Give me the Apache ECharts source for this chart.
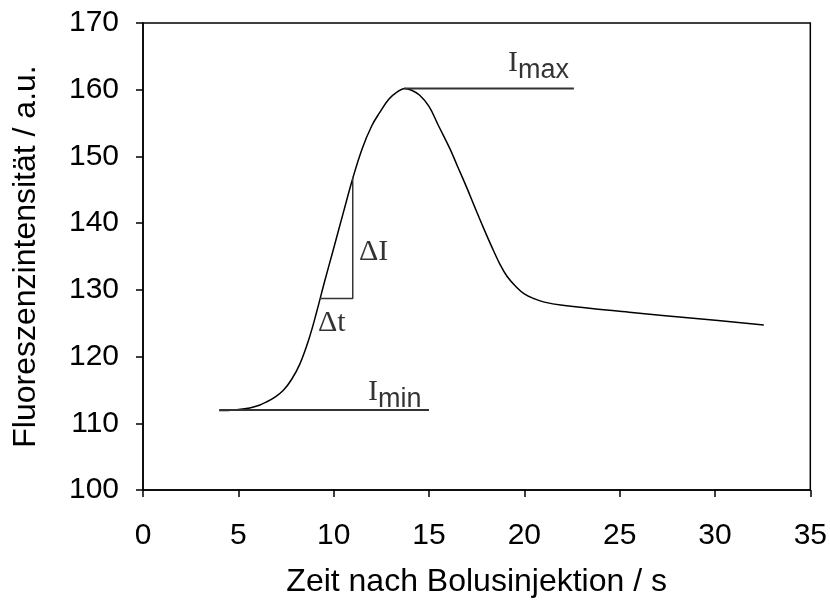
<!DOCTYPE html>
<html>
<head>
<meta charset="utf-8">
<script src="https://cdn.jsdelivr.net/npm/echarts@6/dist/echarts.min.js"></script>
<style>html,body{margin:0;padding:0;background:#fff}#c{width:830px;height:606px}</style>
</head>
<body>
<div id="c"></div>
<script>
// Curve (time in s, fluorescence intensity in a.u.)
const curveX = [4.0, 4.8, 5.6, 6.1, 6.48, 6.9, 7.35, 7.8, 8.23, 8.7, 9.1, 9.5, 9.97, 10.5, 11.0, 11.5, 12.0, 12.42, 12.9, 13.3, 13.73, 14.1, 14.5, 15.0, 15.5, 16.09, 16.5, 16.97, 17.4, 17.84, 18.3, 18.71, 19.1, 19.59, 20.0, 20.5, 21.0, 22.0, 25.5, 29.0, 32.56];
const curveY = [111.9, 112.0, 112.3, 112.7, 113.2, 113.9, 114.9, 116.6, 118.9, 122.6, 126.6, 131.0, 135.9, 141.5, 146.7, 151.2, 154.6, 156.6, 158.6, 159.6, 160.2, 159.9, 159.2, 157.5, 154.6, 151.2, 148.5, 145.4, 142.4, 139.4, 136.4, 133.9, 132.0, 130.4, 129.4, 128.7, 128.2, 127.7, 126.65, 125.7, 124.75];
// Reference lines
const iminX = [4.0, 15.0];   const iminY = [112, 112];
const imaxX = [13.7, 22.6];  const imaxY = [160.2, 160.2];
const slopeX = [9.28, 11.0, 11.0]; const slopeY = [128.7, 128.7, 146.8];
// Annotation labels
const labelNames = ['Imax', 'Imin', 'dI', 'dt'];
const labelX = [20.75, 13.2, 12.1, 9.9];
const labelY = [163.6, 114.2, 135.6, 125.0];
// Axis ticks
const xMin = 0, xMax = 35, xStep = 5;
const yMin = 100, yMax = 170, yStep = 10;
const xTitle = 'Zeit nach Bolusinjektion / s';
const yTitle = 'Fluoreszenzintensität / a.u.';

const zip = (a, b) => a.map((v, i) => [v, b[i]]);
const sans = 'Arial, "Liberation Sans", sans-serif';
const serif = '"Times New Roman", "Liberation Serif", serif';
const labelText = {
  Imax: '{b|I}{s|max}',
  Imin: '{b|I}{s|min}',
  dI: '{i|\u0394I}',
  dt: '{i|\u0394t}'
};
const rich = {
  i: {fontFamily: serif, fontSize: 30, color: '#000', verticalAlign: 'bottom'},
  b: {fontFamily: serif, fontSize: 30, color: '#000', padding: [0, 0, 6, 0], verticalAlign: 'bottom'},
  s: {fontFamily: sans, fontSize: 27, color: '#000', padding: [9, 0, 0, 0], verticalAlign: 'bottom'}
};

const chart = echarts.init(document.getElementById('c'), null, {renderer: 'canvas'});
chart.setOption({
  animation: false,
  backgroundColor: '#fff',
  grid: {left: 143, right: 19, top: 23, bottom: 116, show: true, borderColor: '#000', borderWidth: 1.5, backgroundColor: 'transparent'},
  xAxis: {
    type: 'value', min: xMin, max: xMax, interval: xStep,
    name: xTitle, nameLocation: 'middle', nameGap: 76,
    nameTextStyle: {fontFamily: sans, fontSize: 32, color: '#000'},
    axisLine: {lineStyle: {color: '#000', width: 1.5}},
    axisTick: {show: true, inside: false, length: 7, lineStyle: {color: '#000', width: 1.5}},
    axisLabel: {fontFamily: sans, fontSize: 30, color: '#000', margin: 31},
    splitLine: {show: false}
  },
  yAxis: {
    type: 'value', min: yMin, max: yMax, interval: yStep,
    name: yTitle, nameLocation: 'middle', nameGap: 101,
    nameTextStyle: {fontFamily: sans, fontSize: 32, color: '#000'},
    axisLine: {lineStyle: {color: '#000', width: 1.5}},
    axisTick: {show: true, inside: false, length: 7, lineStyle: {color: '#000', width: 1.5}},
    axisLabel: {fontFamily: sans, fontSize: 30, color: '#000', margin: 24},
    splitLine: {show: false}
  },
  series: [
    {type: 'line', data: zip(curveX, curveY), smooth: 0.4, showSymbol: false, lineStyle: {color: '#000', width: 1.5}},
    {type: 'line', data: zip(iminX, iminY), showSymbol: false, lineStyle: {color: '#333', width: 2}},
    {type: 'line', data: zip(imaxX, imaxY), showSymbol: false, lineStyle: {color: '#333', width: 2}},
    {type: 'line', data: zip(slopeX, slopeY), showSymbol: false, lineStyle: {color: '#333', width: 1.5}},
    {type: 'scatter', symbolSize: 0, silent: true,
     data: labelNames.map((n, i) => ({name: n, value: [labelX[i], labelY[i]]})),
     label: {show: true, position: 'inside', formatter: p => labelText[p.name], rich: rich}}
  ]
});
</script>
</body>
</html>
